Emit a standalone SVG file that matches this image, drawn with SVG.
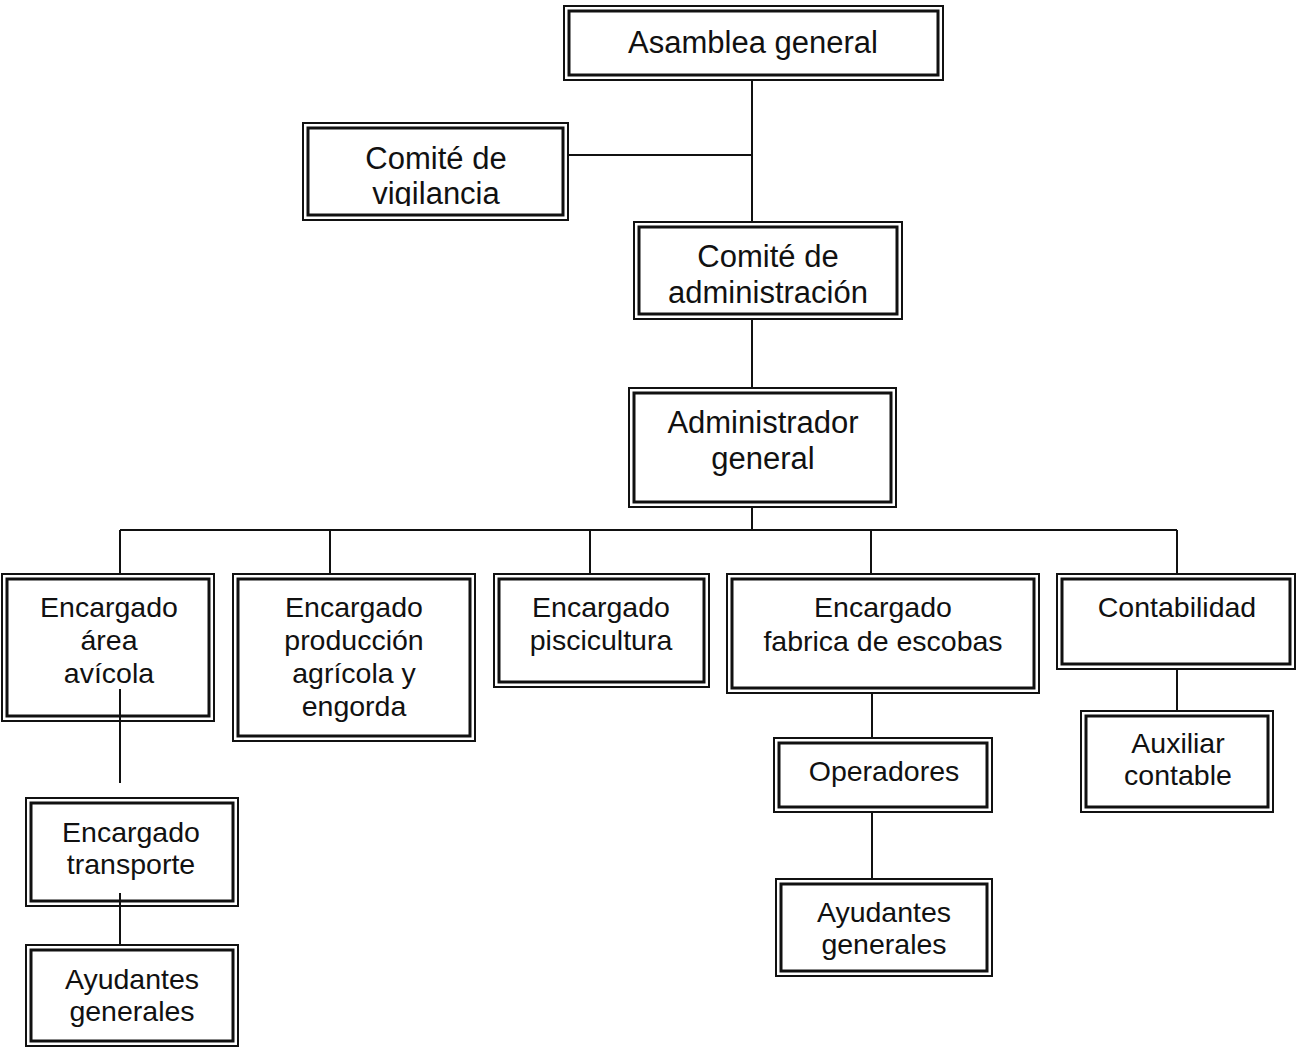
<svg xmlns="http://www.w3.org/2000/svg" width="1296" height="1048" viewBox="0 0 1296 1048">
<style>
.o{fill:#fff;stroke:#111;stroke-width:2}
.i{fill:none;stroke:#111;stroke-width:3}
.t{font-family:"Liberation Sans",Arial,sans-serif;fill:#111;text-anchor:middle}
.big{font-size:31px}
.sm{font-size:28.5px}
.c{stroke:#111;stroke-width:2;fill:none}
</style>
<defs>
<clipPath id="cv"><rect x="300" y="120" width="280" height="86"/></clipPath>
</defs>
<rect width="1296" height="1048" fill="#fff"/>
<g id="n1"><rect class="o" x="564" y="6" width="379" height="74"/><rect class="i" x="569" y="11" width="369" height="64"/><text class="t big" x="753" y="53">Asamblea general</text></g>
<g id="n2"><rect class="o" x="303" y="123" width="265" height="97"/><rect class="i" x="308" y="128" width="255" height="87"/><g clip-path="url(#cv)"><text class="t big" x="436" y="169">Comité de</text><text class="t big" x="436" y="204">vigilancia</text></g></g>
<g id="n3"><rect class="o" x="634" y="222" width="268" height="97"/><rect class="i" x="639" y="227" width="258" height="87"/><text class="t big" x="768" y="267">Comité de</text><text class="t big" x="768" y="303">administración</text></g>
<g id="n4"><rect class="o" x="629" y="388" width="267" height="119"/><rect class="i" x="634" y="393" width="257" height="109"/><text class="t big" x="763" y="433">Administrador</text><text class="t big" x="763" y="469">general</text></g>
<g id="n5"><rect class="o" x="2" y="574" width="212" height="147"/><rect class="i" x="7" y="579" width="202" height="137"/><text class="t sm" x="109" y="617">Encargado</text><text class="t sm" x="109" y="650">área</text><text class="t sm" x="109" y="683">avícola</text></g>
<g id="n6"><rect class="o" x="233" y="574" width="242" height="167"/><rect class="i" x="238" y="579" width="232" height="157"/><text class="t sm" x="354" y="617">Encargado</text><text class="t sm" x="354" y="650">producción</text><text class="t sm" x="354" y="683">agrícola y</text><text class="t sm" x="354" y="716">engorda</text></g>
<g id="n7"><rect class="o" x="494" y="574" width="215" height="113"/><rect class="i" x="499" y="579" width="205" height="103"/><text class="t sm" x="601" y="617">Encargado</text><text class="t sm" x="601" y="650">piscicultura</text></g>
<g id="n8"><rect class="o" x="727" y="574" width="312" height="119"/><rect class="i" x="732" y="579" width="302" height="109"/><text class="t sm" x="883" y="617">Encargado</text><text class="t sm" x="883" y="651">fabrica de escobas</text></g>
<g id="n9"><rect class="o" x="1057" y="574" width="238" height="95"/><rect class="i" x="1062" y="579" width="228" height="85"/><text class="t sm" x="1177" y="617">Contabilidad</text></g>
<g id="n10"><rect class="o" x="774" y="738" width="218" height="74"/><rect class="i" x="779" y="743" width="208" height="64"/><text class="t sm" x="884" y="781">Operadores</text></g>
<g id="n11"><rect class="o" x="1081" y="711" width="192" height="101"/><rect class="i" x="1086" y="716" width="182" height="91"/><text class="t sm" x="1178" y="753">Auxiliar</text><text class="t sm" x="1178" y="785">contable</text></g>
<g id="n12"><rect class="o" x="776" y="879" width="216" height="97"/><rect class="i" x="781" y="884" width="206" height="87"/><text class="t sm" x="884" y="922">Ayudantes</text><text class="t sm" x="884" y="954">generales</text></g>
<g id="n13"><rect class="o" x="26" y="798" width="212" height="108"/><rect class="i" x="31" y="803" width="202" height="98"/><text class="t sm" x="131" y="842">Encargado</text><text class="t sm" x="131" y="874">transporte</text></g>
<g id="n14"><rect class="o" x="26" y="945" width="212" height="101"/><rect class="i" x="31" y="950" width="202" height="91"/><text class="t sm" x="132" y="989">Ayudantes</text><text class="t sm" x="132" y="1021">generales</text></g>
<g id="connectors" class="c">
<path d="M752 81V221M569 155H752M752 320V387M752 508V530M120 530H1177M120 530V573M330 530V573M590 530V573M871 530V573M1177 530V573M120 689V783M120 893V945M872 694V737M872 813V878M1177 670V710"/>
</g>
</svg>
